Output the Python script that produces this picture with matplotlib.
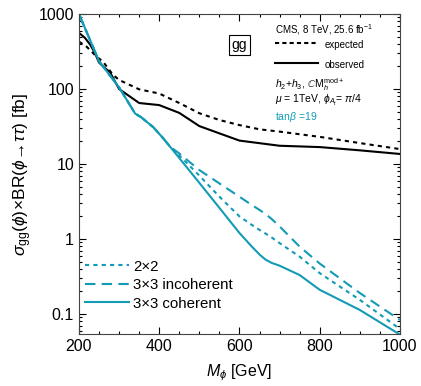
import numpy as np
import matplotlib.pyplot as plt
from matplotlib.ticker import MultipleLocator, LogLocator, FixedLocator, NullFormatter

plt.rcParams['font.family'] = ['Liberation Sans', 'DejaVu Sans']
plt.rcParams['mathtext.fontset'] = 'custom'
plt.rcParams['mathtext.rm'] = 'Liberation Sans'
plt.rcParams['mathtext.it'] = 'Liberation Sans:italic'
plt.rcParams['mathtext.fallback'] = 'cm'

# CMS limits (black)
m_obs = [200, 215, 228, 240, 250, 262, 277, 300, 350, 400, 450, 500, 550, 600, 700, 800, 900, 1000]
xs_obs = [560, 480, 390, 300, 225, 196, 168, 100, 65, 61, 48, 32, 25.6, 20.5, 17.5, 16.8, 15.2, 13.6]
m_exp = [200, 219, 244, 260, 285, 300, 350, 400, 450, 500, 550, 600, 650, 700, 800, 900, 1000]
xs_exp = [428, 367, 270, 231, 154, 132, 99, 87, 65, 47.5, 38.6, 33, 29, 27, 23, 19, 15.8]

# model predictions (cyan)
m_com = [200, 250, 300, 340, 355, 385, 410, 427]
xs_com = [1000, 235, 105, 47, 42, 31, 22, 17]
m_tail = [450, 500, 550, 600, 630, 650, 665, 680, 700, 750, 800, 900, 1000]
xs_2x2 = [13, 7.0, 3.66, 2.0, 1.55, 1.32, 1.18, 1.05, 0.88, 0.58, 0.35, 0.154, 0.063]
xs_inc = [13.8, 8.3, 5.5, 3.66, 2.85, 2.44, 2.15, 1.85, 1.47, 0.79, 0.47, 0.19, 0.083]
xs_coh = [12, 5.6, 2.6, 1.2, 0.8, 0.62, 0.53, 0.48, 0.44, 0.33, 0.21, 0.113, 0.053]

cyan = '#139bb5'

fig = plt.figure(figsize=(4.21, 3.86), dpi=100)
ax = fig.add_axes([0.1876, 0.1347, 0.7624, 0.829])

ax.plot(m_exp, xs_exp, color='k', lw=1.5, dashes=(2, 2))
ax.plot(m_obs, xs_obs, color='k', lw=1.5)

m_all = m_com + m_tail
ax.plot(m_all, xs_com + xs_2x2, color=cyan, lw=1.5, dashes=(2, 2), label='2×2')
ax.plot(m_all, xs_com + xs_inc, color=cyan, lw=1.5, dashes=(5, 3), label='3×3 incoherent')
ax.plot(m_all, xs_com + xs_coh, color=cyan, lw=1.5, label='3×3 coherent')

ax.set_yscale('log')
ax.set_xlim(200, 1000)
ax.set_ylim(0.054, 1000)
ax.xaxis.set_major_locator(MultipleLocator(200))
ax.xaxis.set_minor_locator(MultipleLocator(50))
ax.yaxis.set_major_locator(FixedLocator([0.1, 1, 10, 100, 1000]))
ax.yaxis.set_minor_locator(LogLocator(base=10, subs=np.arange(2, 10)))
ax.yaxis.set_minor_formatter(NullFormatter())
ax.set_yticklabels(['0.1', '1', '10', '100', '1000'])
ax.tick_params(which='both', direction='in', top=True, right=True, labelsize=11.5, width=0.8)
ax.tick_params(which='major', length=5)
ax.tick_params(which='minor', length=2.5)
for s in ax.spines.values():
    s.set_color('#444444')

ax.set_xlabel(r'$M_{\phi}$ [GeV]', fontsize=11.5, labelpad=6)
ax.set_ylabel(r'$\sigma_{\rm gg}(\phi)\!\times\!{\rm BR}(\phi\!\rightarrow\!\tau\tau)$ [fb]', fontsize=12.5, labelpad=3)

ax.legend(loc='center left', bbox_to_anchor=(0.019, 0.153), frameon=False, fontsize=10.8,
          borderpad=0, borderaxespad=0,
          handlelength=2.9, handletextpad=0.3, labelspacing=0.3)

# annotation block
tr = ax.transAxes
ax.text(0.612, 0.95, r'CMS, 8 TeV, 25.6 fb$^{-1}$', transform=tr, fontsize=7, va='center')
ax.plot([0.612, 0.745], [0.91, 0.91], transform=tr, color='k', lw=1.5, dashes=(2, 1.5))
ax.text(0.765, 0.903, 'expected', transform=tr, fontsize=7, va='center')
ax.plot([0.612, 0.745], [0.847, 0.847], transform=tr, color='k', lw=1.5)
ax.text(0.765, 0.841, 'observed', transform=tr, fontsize=7, va='center')
ax.text(0.612, 0.778, r'$h_2$+$h_3$, $\mathbb{C}$M$_h^{\rm mod+}$', transform=tr, fontsize=7.5, va='center')
ax.text(0.612, 0.731, r'$\mu$ = 1TeV, $\phi_{A_t}$= $\pi$/4', transform=tr, fontsize=7.5, va='center')
ax.text(0.612, 0.678, r'tan$\beta$ =19', transform=tr, fontsize=7.5, va='center', color=cyan)
ax.text(0.50, 0.903, 'gg', transform=tr, fontsize=10, va='center', ha='center',
        bbox=dict(boxstyle='square,pad=0.2', fc='white', ec='k', lw=0.8))

fig.savefig('out.png', dpi=100)
